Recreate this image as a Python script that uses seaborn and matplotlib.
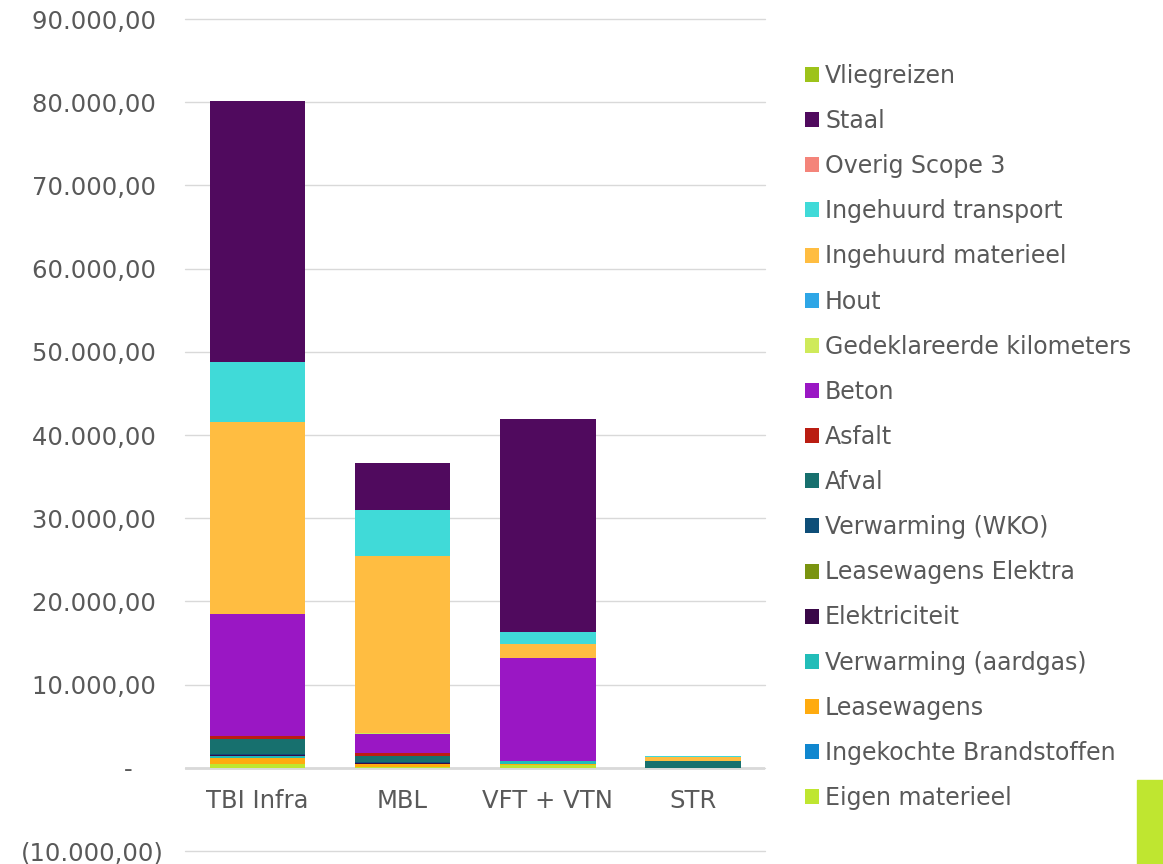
import numpy as np
import pandas as pd
import matplotlib
matplotlib.use("Agg")
import matplotlib.pyplot as plt
from matplotlib.patches import Patch, Rectangle
from matplotlib.ticker import FuncFormatter, MultipleLocator
import seaborn as sns

# companies on the x axis
bedrijven = ["TBI Infra", "MBL", "VFT + VTN", "STR"]

# emission categories, stacked from bottom to top
categorieen = [
    "Eigen materieel", "Ingekochte Brandstoffen", "Leasewagens",
    "Verwarming (aardgas)", "Elektriciteit", "Leasewagens Elektra",
    "Verwarming (WKO)", "Afval", "Asfalt", "Beton",
    "Gedeklareerde kilometers", "Hout", "Ingehuurd materieel",
    "Ingehuurd transport", "Overig Scope 3", "Staal", "Vliegreizen",
]
kleuren = [
    "#BFE630", "#1087CF", "#FFAB0F", "#22BDB8", "#3A0848", "#7A9410",
    "#0E4E78", "#17706E", "#BA1D12", "#9A17C4", "#CFEA5A", "#2EA6E6",
    "#FFBD41", "#40DAD8", "#F4847A", "#500A5E", "#9DC31A",
]

# values per category (TBI Infra, MBL, VFT + VTN, STR)
eigen_materieel = [420, 50, 320, 0]
ingekochte_brandstoffen = [80, 0, 0, 0]
leasewagens = [650, 360, 200, 0]
verwarming_aardgas = [250, 20, 250, 0]
elektriciteit = [150, 200, 0, 0]
leasewagens_elektra = [20, 0, 0, 0]
verwarming_wko = [40, 80, 0, 0]
afval = [1800, 700, 0, 850]
asfalt = [400, 360, 0, 0]
beton = [14700, 2300, 12400, 0]
gedeklareerde_km = [0, 100, 0, 0]
hout = [0, 0, 0, 0]
ingehuurd_materieel = [23100, 21300, 1700, 500]
ingehuurd_transport = [7200, 5500, 1500, 60]
overig_scope3 = [0, 0, 0, 0]
staal = [31300, 5700, 25500, 0]
vliegreizen = [0, 0, 0, 0]

waarden = [
    eigen_materieel, ingekochte_brandstoffen, leasewagens, verwarming_aardgas,
    elektriciteit, leasewagens_elektra, verwarming_wko, afval, asfalt, beton,
    gedeklareerde_km, hout, ingehuurd_materieel, ingehuurd_transport,
    overig_scope3, staal, vliegreizen,
]

sns.set_theme(style="white")
plt.rcParams["font.family"] = ["DejaVu Sans"]
tekstkleur = "#595959"
fs = 17.5

fig = plt.figure(figsize=(11.63, 8.64), dpi=100)
ax = fig.add_axes([0.159, 0.015, 0.499, 0.963])

bodem = np.zeros(len(bedrijven))
for naam, kleur, vals in zip(categorieen, kleuren, waarden):
    df = pd.DataFrame({"bedrijf": bedrijven, "waarde": vals})
    sns.barplot(data=df, x="bedrijf", y="waarde", order=bedrijven, color=kleur,
                width=0.66, errorbar=None, bottom=bodem, ax=ax,
                edgecolor="none", linewidth=0, saturation=1)
    bodem = bodem + np.array(vals)

def nl_formaat(v, pos):
    # Dutch accounting style: 10.000,00 / - / (10.000,00)
    if abs(v) < 1e-6:
        return "-    "
    s = f"{abs(v):,.2f}".replace(",", "X").replace(".", ",").replace("X", ".")
    if v < 0:
        return f"({s})"
    return s + " "

ax.set_ylim(-10000, 90000)
ax.set_xlim(-0.5, 3.5)
ax.yaxis.set_major_locator(MultipleLocator(10000))
ax.yaxis.set_major_formatter(FuncFormatter(nl_formaat))
ax.grid(axis="y", color="#D9D9D9", linewidth=1)
ax.set_axisbelow(True)
for gl in ax.get_ygridlines():
    gl.set_clip_on(False)
ax.axhline(0, color="#D9D9D9", linewidth=2, zorder=0.5)
for s in ax.spines.values():
    s.set_visible(False)
ax.tick_params(axis="both", length=0, labelsize=fs, colors=tekstkleur, pad=15)
ax.set_xlabel("")
ax.set_ylabel("")
# category labels sit just under the zero line
ax.set_xticks(range(len(bedrijven)))
ax.set_xticklabels([])
for i, b in enumerate(bedrijven):
    ax.text(i, -4000, b, ha="center", va="center", fontsize=fs, color=tekstkleur)

handles = [Patch(facecolor=k, edgecolor="none") for k in kleuren[::-1]]
fig.legend(handles, categorieen[::-1], loc="upper left",
           bbox_to_anchor=(0.684, 0.937), frameon=False, fontsize=17,
           labelcolor=tekstkleur, handlelength=0.6, handleheight=0.6,
           handletextpad=0.25, labelspacing=0.895, borderaxespad=0)

fig.patches.append(Rectangle((1137 / 1163, 0), 26 / 1163, 84 / 864,
                             transform=fig.transFigure, color="#BFE630"))

fig.savefig("out.png", dpi=100, facecolor="white")
